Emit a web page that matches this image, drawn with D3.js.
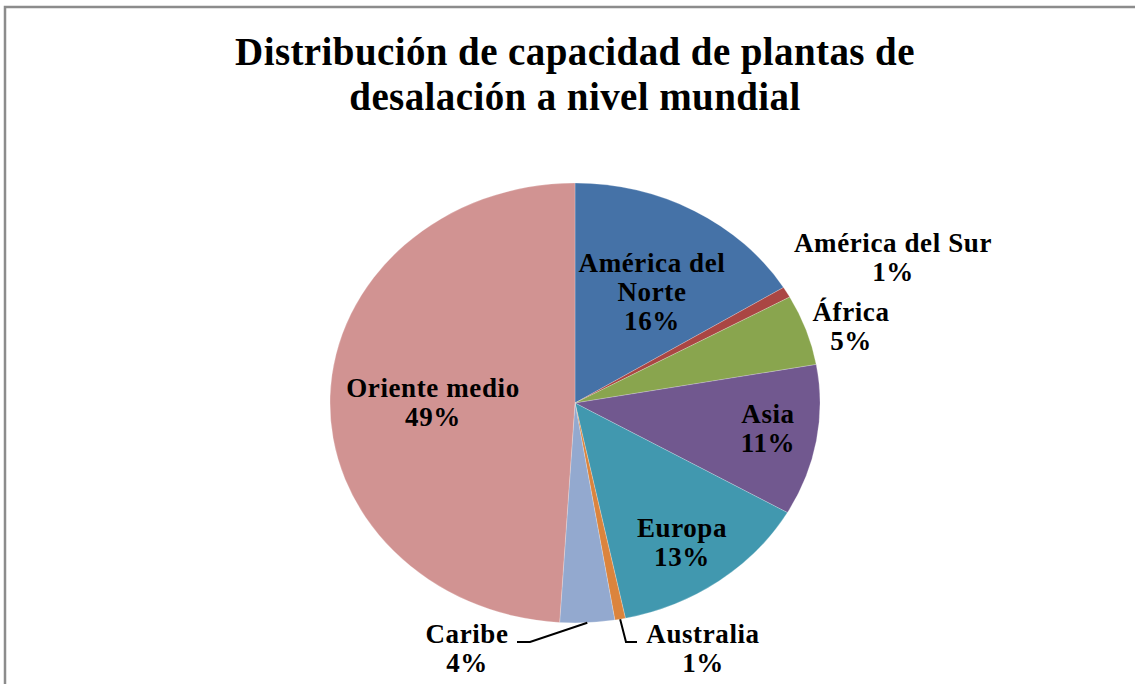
<!DOCTYPE html>
<html>
<head>
<meta charset="utf-8">
<script src="https://cdn.jsdelivr.net/npm/d3@7"></script>
<style>
  body { margin: 0; background: #fff; }
  text { font-family: "Liberation Serif", "Times New Roman", serif; font-weight: bold; fill: #000; }
</style>
</head>
<body>
<div id="chart"></div>
<script>
// data (clockwise from 12 o'clock)
var regions = ['América del Norte', 'América del Sur', 'África', 'Asia', 'Europa', 'Australia', 'Caribe', 'Oriente medio'];
var shares = [16.2, 0.8, 5.2, 11.1, 13.4, 0.7, 3.6, 49.0];
var shownPct = ['16%', '1%', '5%', '11%', '13%', '1%', '4%', '49%'];
var colors = ['#4572A7', '#AA4643', '#89A54E', '#71588F', '#4198AF', '#DB843D', '#93A9CF', '#D19392'];
var labelLines = [['América del', 'Norte'], ['América del Sur'], ['África'], ['Asia'], ['Europa'], ['Australia'], ['Caribe'], ['Oriente medio']];

var W = 1135, H = 684;
var cx = 575, cy = 403, rx = 245, ry = 220;

var svg = d3.select('#chart').append('svg')
  .attr('width', W).attr('height', H);

// frame (cut off at right and bottom like the screenshot)
svg.append('rect')
  .attr('x', 5).attr('y', 7).attr('width', W + 20).attr('height', H + 20)
  .attr('fill', 'none').attr('stroke', '#8c8c8c').attr('stroke-width', 2.5);

// title, two separate lines
['Distribución de capacidad de plantas de', 'desalación a nivel mundial'].forEach(function(s, k){
  svg.append('text')
    .attr('x', cx).attr('y', 65 + k * 45)
    .attr('text-anchor', 'middle')
    .style('font-size', '39px')
    .style('letter-spacing', '0.4px')
    .text(s);
});

var pie = d3.pie().sort(null).value(function(d){ return d; });
var arcs = pie(shares);
var arc = d3.arc().innerRadius(0).outerRadius(rx);

var g = svg.append('g')
  .attr('transform', 'translate(' + cx + ',' + cy + ') scale(1,' + (ry / rx) + ')');

g.selectAll('path')
  .data(arcs)
  .enter().append('path')
  .attr('d', arc)
  .attr('fill', function(d, i){ return colors[i]; })
  .attr('stroke', '#fff').attr('stroke-width', 0.4).attr('stroke-opacity', 0.6);

// label anchors: centre x and first baseline (layout, not data)
var labelPos = {
  'América del Norte': [652, 272],
  'América del Sur': [893, 252],
  'África': [851, 321],
  'Asia': [768, 423],
  'Europa': [682, 537],
  'Australia': [703, 643],
  'Caribe': [467, 643],
  'Oriente medio': [433, 397]
};
var lineH = 29;

arcs.forEach(function(a, i){
  var p = labelPos[regions[i]];
  var t = svg.append('text')
    .attr('text-anchor', 'middle')
    .style('font-size', '27px')
    .style('letter-spacing', '0.6px');
  var lines = labelLines[i].concat([shownPct[i]]);
  lines.forEach(function(s, k){
    t.append('tspan').attr('x', p[0]).attr('y', p[1] + k * lineH).text(s);
  });
});

// leader lines for Caribe and Australia, from the slice edge
function edgePoint(a){
  var m = (a.startAngle + a.endAngle) / 2;
  return [cx + rx * Math.sin(m), cy - ry * Math.cos(m)];
}
var leaders = [
  { idx: 6, pts: function(e){ return [e, [530, 642], [517, 642]]; } },
  { idx: 5, pts: function(e){ return [e, [626, 642], [637, 642]]; } }
];
leaders.forEach(function(l){
  var e = edgePoint(arcs[l.idx]);
  svg.append('path')
    .attr('d', d3.line()(l.pts(e)))
    .attr('fill', 'none').attr('stroke', '#000').attr('stroke-width', 2);
});
</script>
</body>
</html>
